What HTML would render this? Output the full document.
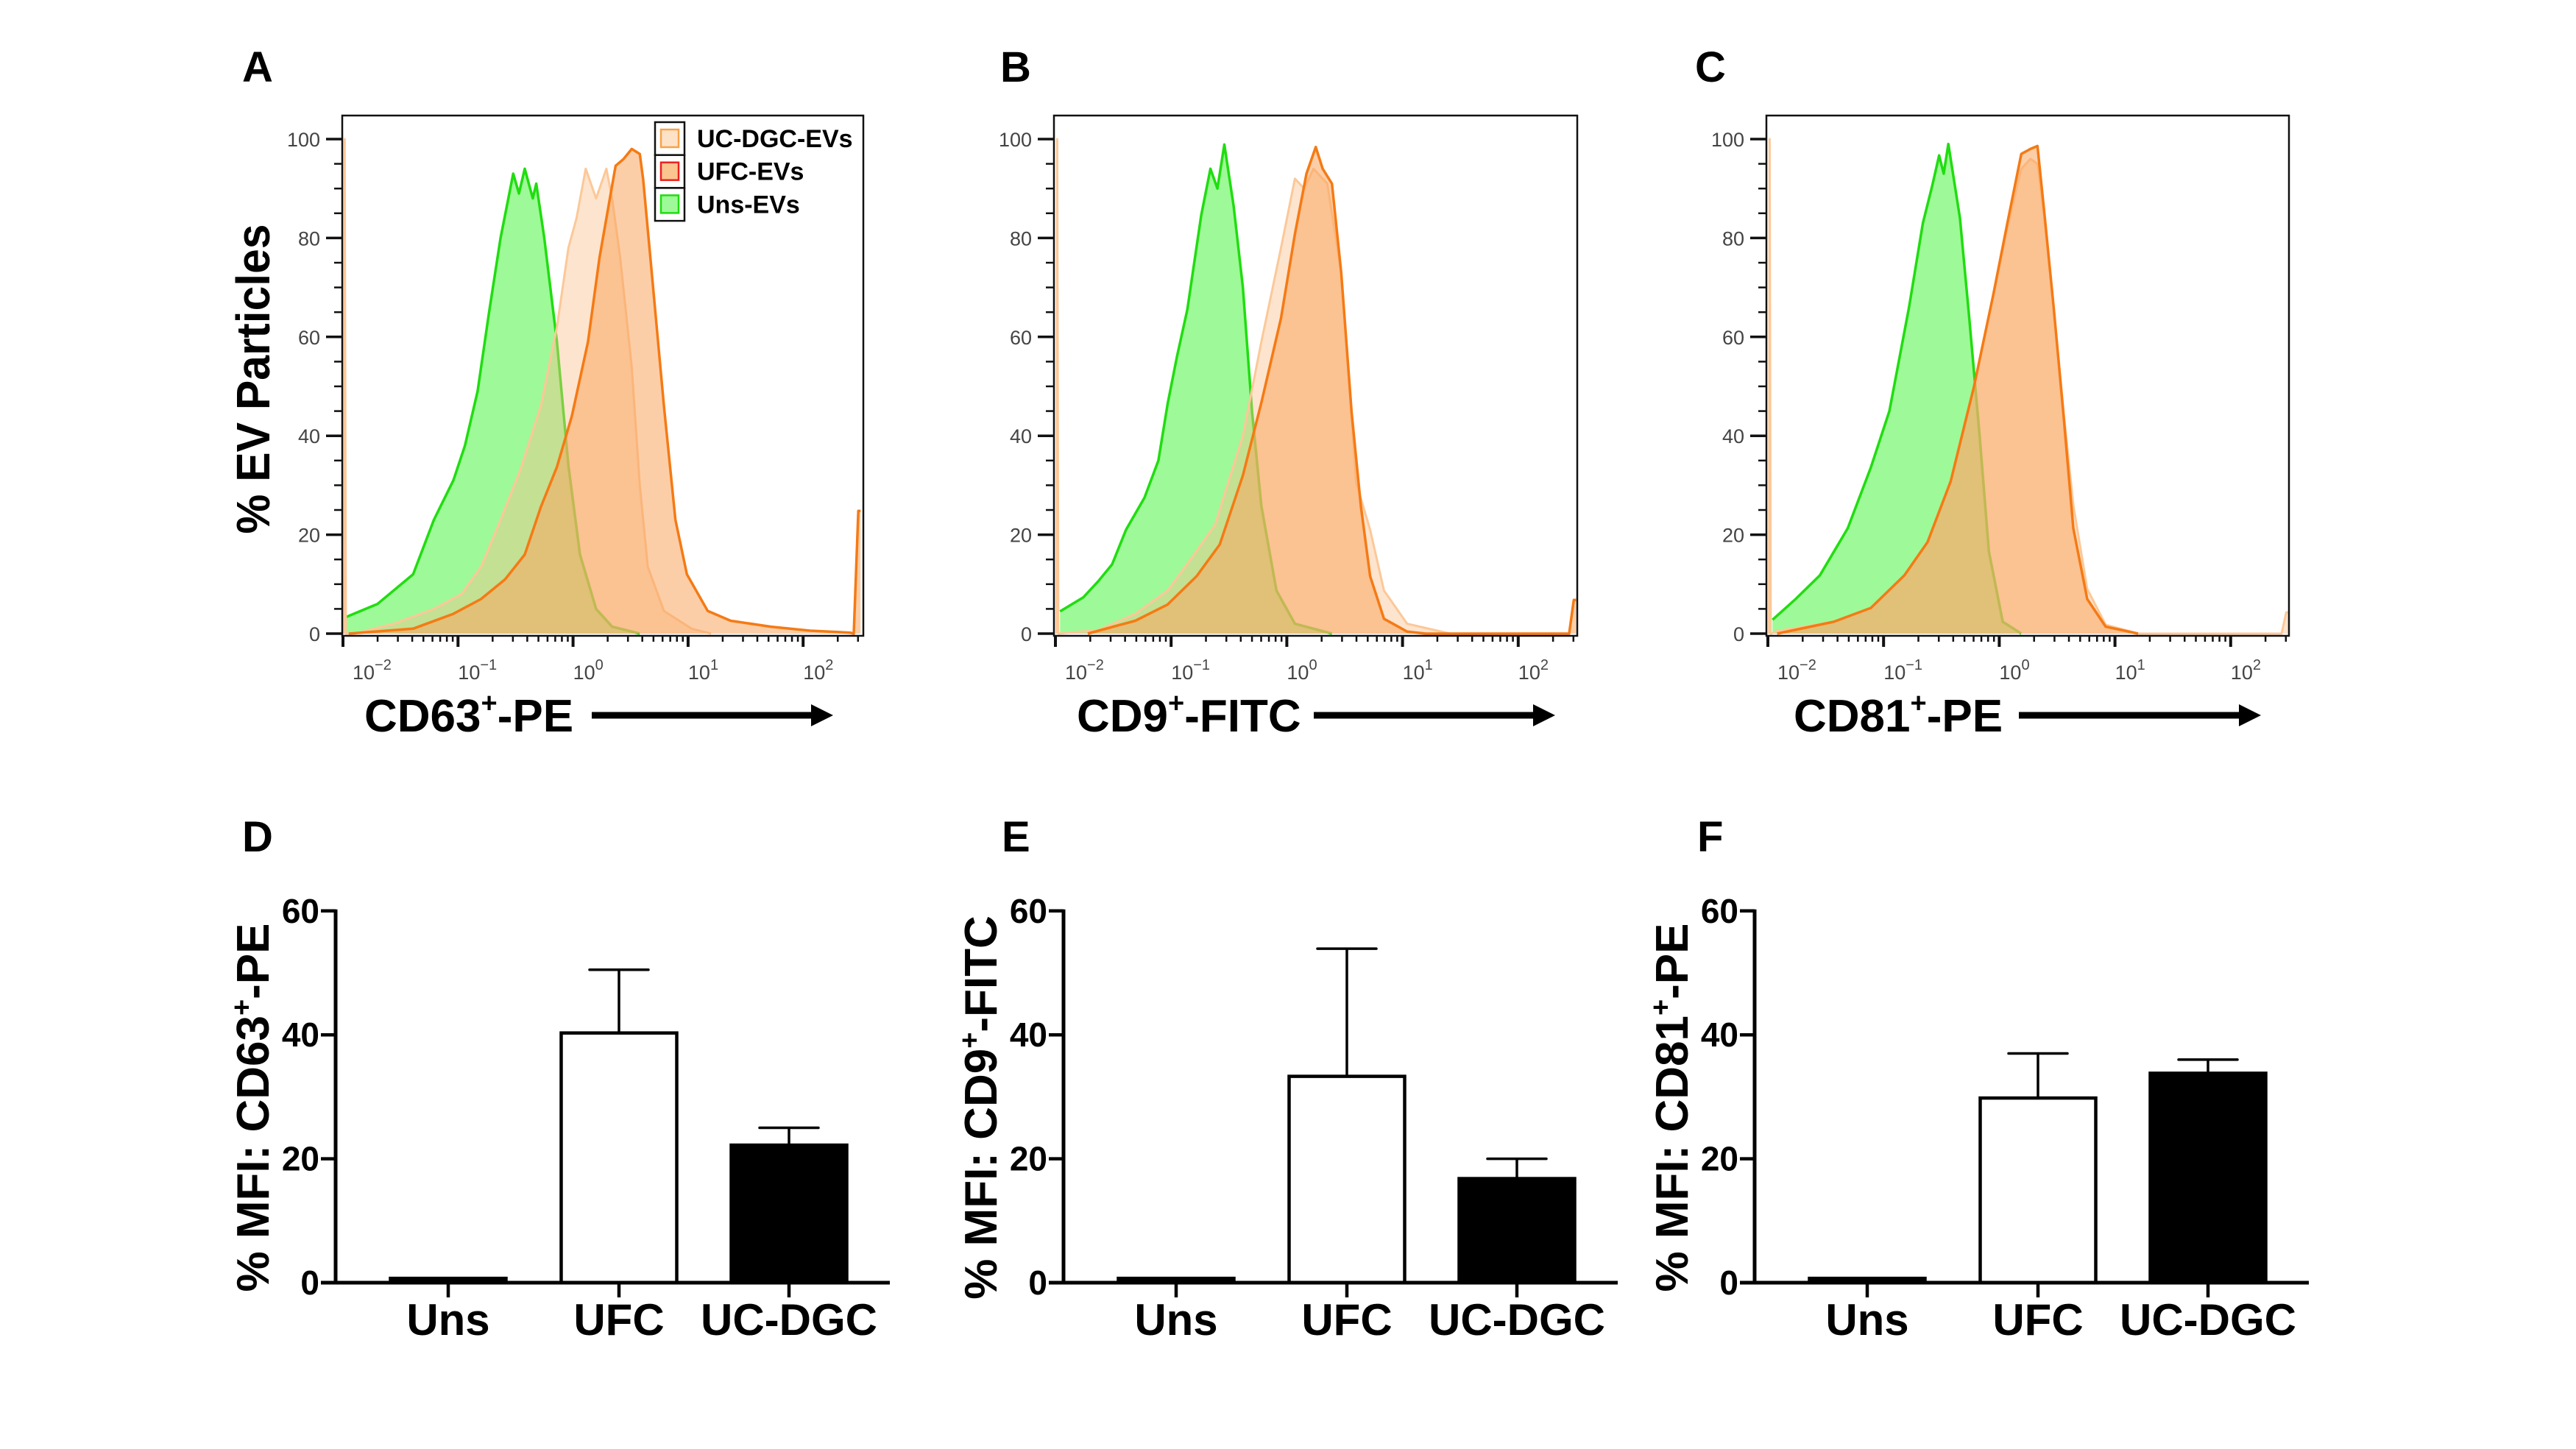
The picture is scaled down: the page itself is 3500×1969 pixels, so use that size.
<!DOCTYPE html>
<html><head><meta charset="utf-8"><title>EV flow cytometry figure</title>
<style>
html,body{margin:0;padding:0;background:#fff;}
svg{display:block;}
text{font-family:"Liberation Sans",Arial,sans-serif;}
</style></head>
<body>
<svg id="fig" xmlns="http://www.w3.org/2000/svg" width="3500" height="1969" viewBox="0 0 3500 1969">
<rect x="0" y="0" width="3500" height="1969" fill="#fff"/>
<defs>
<clipPath id="clipA"><rect x="465" y="157" width="708" height="707"/></clipPath>
<clipPath id="clipB"><rect x="1432" y="157" width="711" height="707"/></clipPath>
<clipPath id="clipC"><rect x="2400" y="157" width="710" height="707"/></clipPath>
</defs>
</svg>
<script>
// ---------- Histogram data (log10 intensity, % of max) ----------
const aUnsLx=[-1.97,-1.70,-1.39,-1.21,-1.04,-0.94,-0.83,-0.73,-0.63,-0.52,-0.47,-0.42,-0.35,-0.32,-0.25,-0.14,-0.04,0.06,0.20,0.34,0.58];
const aUnsPct=[3.4,6,12,23,31,38,49,65,80,93,89,94,88,91,80,59,34,16,5,1.4,0];
const aDgcLx=[-1.99,-1.985,-1.975,-1.9,-1.56,-1.21,-0.97,-0.80,-0.63,-0.46,-0.28,-0.14,-0.04,0.03,0.11,0.20,0.29,0.34,0.41,0.51,0.58,0.65,0.79,1.03,1.20];
const aDgcPct=[0,100,0,0,2,5,8,13.5,23,33,46,62,78,84,94,88,94,88,76,54,30,13.5,4.6,1,0];
const aUfcLx=[-1.95,-1.39,-1.04,-0.80,-0.59,-0.42,-0.28,-0.14,-0.01,0.13,0.23,0.37,0.44,0.51,0.58,0.61,0.68,0.79,0.89,0.99,1.17,1.37,1.72,2.06,2.41,2.44,2.48,2.50];
const aUfcPct=[0,1,4,7,11,16,25.6,33.7,44,59,76,94.6,96,98,97,91.8,74,46,23,12,4.6,2.6,1.4,0.6,0.2,0,24.8,24.8];

const bUnsLx=[-1.96,-1.76,-1.63,-1.51,-1.39,-1.23,-1.11,-1.03,-0.95,-0.86,-0.74,-0.66,-0.60,-0.54,-0.46,-0.38,-0.30,-0.22,-0.09,0.07,0.39];
const bUnsPct=[4.5,7.3,10.6,14,21,27.5,35,46.5,56,65.5,84.6,94,90,98.9,86.5,70,44.8,25.8,8.7,2,0];
const bDgcLx=[-1.99,-1.985,-1.975,-1.63,-1.31,-1.03,-0.82,-0.62,-0.38,-0.22,-0.05,0.07,0.15,0.23,0.35,0.47,0.60,0.72,0.84,1.04,1.41];
const bDgcPct=[0,100,0,0.7,4,8.7,15.4,22,40,59,78,92,90,94,91,73,30.5,21,8.7,2,0];
const bUfcLx=[-1.72,-1.31,-1.03,-0.78,-0.58,-0.38,-0.22,-0.05,0.07,0.17,0.25,0.31,0.39,0.47,0.56,0.64,0.72,0.84,1.04,1.20,2.44,2.48,2.50];
const bUfcPct=[0,2.6,5.9,11.6,18,32,46.7,63.8,80.8,93,98.4,94,91,73,44.8,25.8,11.6,3,0.4,0,0,6.8,6.8];

const cUnsLx=[-1.96,-1.76,-1.55,-1.31,-1.11,-0.95,-0.78,-0.66,-0.58,-0.52,-0.48,-0.44,-0.34,-0.26,-0.17,-0.09,0.03,0.19];
const cUnsPct=[2.8,7,11.8,21.3,33.6,45,66,83,90.5,96.7,93,99,84,64,40,16.6,2.4,0];
const cDgcLx=[-1.99,-1.985,-1.975,-1.92,-1.43,-1.11,-0.82,-0.62,-0.42,-0.22,-0.05,0.07,0.19,0.27,0.33,0.39,0.47,0.56,0.64,0.76,0.92,1.20,2.44,2.48,2.50];
const cDgcPct=[0,100,0,0.5,2.4,5.2,11.8,18.5,30.8,49.8,68.7,82,94,96,95,84,66,44,26,9,1.8,0,0,4.3,4.3];
const cUfcLx=[-1.92,-1.43,-1.11,-0.82,-0.62,-0.42,-0.22,-0.05,0.07,0.19,0.27,0.33,0.39,0.47,0.56,0.64,0.76,0.92,1.20];
const cUfcPct=[0,2.4,5.2,11.8,18.5,30.8,49.8,68.7,83,97,98,98.6,85,66,43,21.3,7,1.4,0];

const histYTicks=[0,20,40,60,80,100];
const histDecades=[-2,-1,0,1,2];

// ---------- Bar data (% MFI) ----------
const barCats=["Uns","UFC","UC-DGC"];
const dMeans=[0.7,40.3,22.2];
const dErrs=[0,10.2,2.8];
const eMeans=[0.7,33.3,16.8];
const eErrs=[0,20.6,3.2];
const fMeans=[0.7,29.8,33.8];
const fErrs=[0,7.2,2.2];
const barYTicks=[0,20,40,60];

const NS="http://www.w3.org/2000/svg";
const svg=document.getElementById('fig');
function mk(tag,attrs,parent){const e=document.createElementNS(NS,tag);for(const k in attrs)e.setAttribute(k,attrs[k]);(parent||svg).appendChild(e);return e;}

// ---------- Histogram panels ----------
const histPanels=[
 {id:'a',letter:'A',letterX:329,left:465,width:708,x0:466,dec:156.3,clip:'clipA',label:'CD63',labelSuffix:'-PE',labelX:495,arrowX1:804,arrowX2:1132,
  uns:[aUnsLx,aUnsPct],dgc:[aDgcLx,aDgcPct],ufc:[aUfcLx,aUfcPct],legend:true,ylabel:true},
 {id:'b',letter:'B',letterX:1359,left:1432,width:711,x0:1434,dec:157.2,clip:'clipB',label:'CD9',labelSuffix:'-FITC',labelX:1463,arrowX1:1785,arrowX2:2113,
  uns:[bUnsLx,bUnsPct],dgc:[bDgcLx,bDgcPct],ufc:[bUfcLx,bUfcPct]},
 {id:'c',letter:'C',letterX:2303,left:2400,width:710,x0:2402,dec:157.2,clip:'clipC',label:'CD81',labelSuffix:'-PE',labelX:2437,arrowX1:2743,arrowX2:3072,
  uns:[cUnsLx,cUnsPct],dgc:[cDgcLx,cDgcPct],ufc:[cUfcLx,cUfcPct]}
];
const hTop=157,hBottom=864,hY0=861,hPerUnit=6.72;

histPanels.forEach(p=>{
  const g=mk('g',{});
  
  
  const xs=lx=>p.x0+(lx+2)*p.dec;
  const ys=v=>hY0-v*hPerUnit;

  const lt=mk('text',{x:p.letterX,y:111,'font-size':58,'font-weight':'bold',fill:'#000'},g);
  lt.textContent=p.letter;
  
  

  const plot=mk('g',{'clip-path':'url(#'+p.clip+')'},g);
  
  

  const series=[
    {key:'uns',fill:'#9ef998',fo:1,stroke:'#20dd10',sw:3.5},
    {key:'dgc',fill:'#fbbf8a',fo:0.42,stroke:'#fcc898',sw:3},
    {key:'ufc',fill:'#f9a661',fo:0.55,stroke:'#f57a14',sw:3.5}
  ];
  series.forEach(s=>{
    const [lx,pc]=p[s.key];
    let pts=lx.map((v,i)=>xs(v).toFixed(1)+','+ys(pc[i]).toFixed(1));
    const dFill='M'+xs(lx[0]).toFixed(1)+','+hY0+' L'+pts.join(' L')+' L'+xs(lx[lx.length-1]).toFixed(1)+','+hY0+' Z';
    const f=mk('path',{d:dFill,fill:s.fill,'fill-opacity':s.fo,stroke:'none'},plot);
    
    
    const l=mk('polyline',{points:pts.join(' '),fill:'none',stroke:s.stroke,'stroke-width':s.sw,'stroke-linejoin':'round'},plot);
    
    
  });

  const box=mk('rect',{x:p.left,y:hTop,width:p.width,height:hBottom-hTop,fill:'none',stroke:'#111','stroke-width':2.5},g);
  
  

  for(let v=0;v<=100;v+=5){
    const major=v%20===0;
    const t=mk('line',{x1:p.left-(major?22:11),x2:p.left,y1:ys(v),y2:ys(v),stroke:'#111','stroke-width':major?3.5:2.5},g);
    
    
  }
  histYTicks.forEach(v=>{
    const tx=mk('text',{x:p.left-30,y:ys(v)+10,'font-size':27,'text-anchor':'end',fill:'#444'},g);
    tx.textContent=v;
    
    
  });
  const lxMax=(p.left+p.width-p.x0)/p.dec-2;
  histDecades.forEach(d=>{
    for(let k=1;k<=9;k++){
      const lx=d+Math.log10(k);
      if(lx>lxMax)break;
      const X=xs(lx);
      const major=k===1;
      const t=mk('line',{x1:X,x2:X,y1:hBottom,y2:hBottom+(major?15:8),stroke:'#111','stroke-width':major?4:2.5},g);
      
      
    }
    const lbl=mk('text',{x:xs(d)+(d===-2?13:0),y:923,'font-size':27,fill:'#444'},g);
    
    
    lbl.appendChild(document.createTextNode('10'));
    const sup=mk('tspan',{dy:-13,'font-size':20},lbl);
    sup.textContent=(d<0?'\u2212':'')+Math.abs(d);
  });

  const xl=mk('text',{x:p.labelX,y:994,'font-size':62,'font-weight':'bold',fill:'#000'},g);
  
  
  xl.appendChild(document.createTextNode(p.label));
  const sp=mk('tspan',{dy:-26,'font-size':38},xl); sp.textContent='+';
  const rest=mk('tspan',{dy:26},xl); rest.textContent=p.labelSuffix;
  const ar=mk('line',{x1:p.arrowX1,x2:p.arrowX2-26,y1:972,y2:972,stroke:'#000','stroke-width':9},g);
  
  
  const ah=mk('polygon',{points:(p.arrowX2-30)+',957 '+p.arrowX2+',972 '+(p.arrowX2-30)+',987',fill:'#000'},g);
  
  

  if(p.ylabel){
    const yl=mk('text',{x:0,y:0,'font-size':64,'font-weight':'bold','text-anchor':'middle',transform:'translate(366,515) rotate(-90)',textLength:421,lengthAdjust:'spacingAndGlyphs',fill:'#000'},g);
    yl.textContent='% EV Particles';
    
    
  }
  if(p.legend){
    const lg=mk('g',{},g);
    
    
    const items=[['UC-DGC-EVs','#fde2c8','#f7a24a'],['UFC-EVs','#fbc590','#ee2020'],['Uns-EVs','#9ef998','#20dd10']];
    items.forEach((it,i)=>{
      const cy=166+i*44.7;
      const cell=mk('rect',{x:890,y:cy,width:40,height:44.7,fill:'#fff',stroke:'#111','stroke-width':2.5},lg);
      
      
      const sw=mk('rect',{x:898,y:cy+10,width:24,height:24,fill:it[1],stroke:it[2],'stroke-width':2.5},lg);
      
      
      const tx=mk('text',{x:947,y:cy+34,'font-size':34,'font-weight':'bold',fill:'#000'},lg);
      tx.textContent=it[0];
      
      
    });
  }
});

// ---------- Bar panels ----------
const barPanels=[
 {id:'d',letter:'D',letterX:329,axisX:456,means:dMeans,errs:dErrs,marker:'CD63',suffix:'-PE'},
 {id:'e',letter:'E',letterX:1361,axisX:1445,means:eMeans,errs:eErrs,marker:'CD9',suffix:'-FITC'},
 {id:'f',letter:'F',letterX:2306,axisX:2384,means:fMeans,errs:fErrs,marker:'CD81',suffix:'-PE'}
];
const bY0=1743,bPerUnit=8.42,barW=157,catOffsets=[153,385,616],axisLen=753;
const barFills=['#000','#fff','#000'];

barPanels.forEach(p=>{
  const g=mk('g',{});
  
  
  const ys=v=>bY0-v*bPerUnit;

  const lt=mk('text',{x:p.letterX,y:1157,'font-size':58,'font-weight':'bold',fill:'#000'},g);
  lt.textContent=p.letter;
  
  

  barCats.forEach((c,i)=>{
    const cx=p.axisX+catOffsets[i];
    const top=ys(p.means[i]);
    const r=mk('rect',{x:cx-barW/2,y:top,width:barW,height:bY0-top,fill:barFills[i],stroke:'#000','stroke-width':4.5},g);
    
    
    if(p.errs[i]>0){
      const et=ys(p.means[i]+p.errs[i]);
      const el=mk('line',{x1:cx,x2:cx,y1:top,y2:et,stroke:'#000','stroke-width':3.5},g);
      
      
      const cap=mk('line',{x1:cx-40,x2:cx+40,y1:et,y2:et,stroke:'#000','stroke-width':3.5,'stroke-linecap':'round'},g);
      
      
    }
    const tk=mk('line',{x1:cx,x2:cx,y1:bY0,y2:bY0+20,stroke:'#000','stroke-width':4.5},g);
    
    
    const lb=mk('text',{x:cx,y:1814,'font-size':60,'font-weight':'bold','text-anchor':'middle',fill:'#000'},g);
    lb.textContent=c;
    
    
  });

  const ya=mk('line',{x1:p.axisX,x2:p.axisX,y1:ys(60)-2,y2:bY0+2,stroke:'#000','stroke-width':5},g);
  
  
  const xa=mk('line',{x1:p.axisX-20,x2:p.axisX+axisLen,y1:bY0,y2:bY0,stroke:'#000','stroke-width':5},g);
  
  
  barYTicks.forEach(v=>{
    const t=mk('line',{x1:p.axisX-20,x2:p.axisX,y1:ys(v),y2:ys(v),stroke:'#000','stroke-width':4.5},g);
    
    
    const tx=mk('text',{x:p.axisX-22,y:ys(v)+16,'font-size':46,'font-weight':'bold','text-anchor':'end',fill:'#000'},g);
    tx.textContent=v;
    
    
  });
  const yl=mk('text',{x:0,y:0,'font-size':62,'font-weight':'bold','text-anchor':'middle',transform:'translate('+(p.axisX-91)+',1505) rotate(-90)',fill:'#000'},g);
  
  
  yl.appendChild(document.createTextNode('% MFI: '+p.marker));
  const s1=mk('tspan',{dy:-24,'font-size':38},yl); s1.textContent='+';
  const s2=mk('tspan',{dy:24},yl); s2.textContent=p.suffix;
});
</script>
</body></html>
